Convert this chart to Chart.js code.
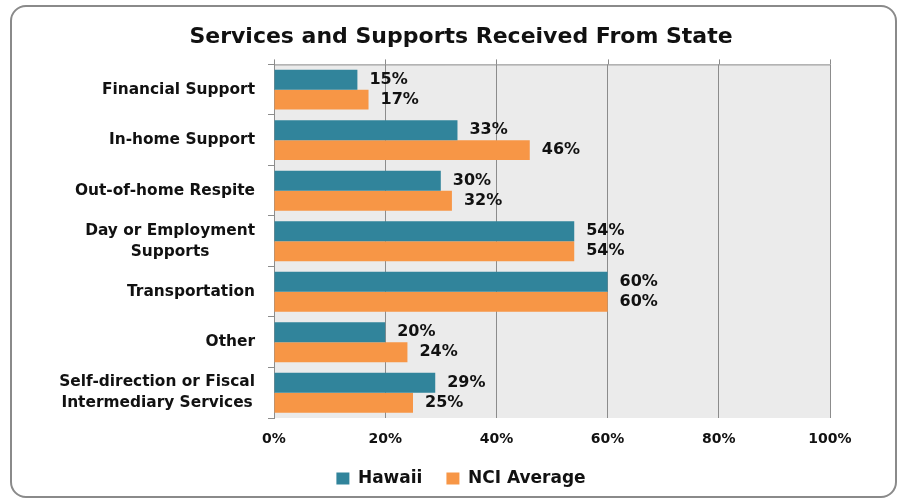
<!DOCTYPE html>
<html>
<head>
<meta charset="utf-8">
<script src="https://cdn.jsdelivr.net/npm/chart.js@4/dist/chart.umd.min.js"></script>
<style>
  html, body { margin: 0; padding: 0; background: #fff; }
  #wrap { position: relative; width: 900px; height: 502px; }
  #frame {
    position: absolute; left: 10px; top: 5px; width: 887px; height: 493px;
    border: 2px solid #8a8a8a; border-radius: 16px; box-sizing: border-box;
  }
  canvas { position: absolute; left: 0; top: 0; }
</style>
</head>
<body>
<div id="wrap">
  <div id="frame"></div>
  <canvas id="chart" width="900" height="502"></canvas>
</div>
<script>
// data
const categories = [
    ['Financial Support'],
    ['In-home Support'],
    ['Out-of-home Respite'],
    ['Day or Employment', 'Supports'],
    ['Transportation'],
    ['Other'],
    ['Self-direction or Fiscal', 'Intermediary Services']
];
const hawaii     = [15, 33, 30, 54, 60, 20, 29];
const nciAverage = [17, 46, 32, 54, 60, 24, 25];
const xTicks     = [0, 20, 40, 60, 80, 100];

const FONT = "'DejaVu Sans', sans-serif";
const TEXT = '#111111';
const GRID = '#8c8c8c';

// plot background, top frame line, category labels and value labels
const panel = {
    id: 'panel',
    beforeDraw(chart) {
        const { ctx, chartArea: a } = chart;
        ctx.save();
        ctx.fillStyle = '#ebebeb';
        ctx.fillRect(a.left, a.top, a.right - a.left, a.bottom - a.top);
        ctx.restore();
    },
    afterDraw(chart) {
        const { ctx, chartArea: a, scales } = chart;
        ctx.save();

        // top edge with little tick marks above it
        ctx.strokeStyle = GRID;
        ctx.lineWidth = 1;
        ctx.beginPath();
        ctx.moveTo(a.left, a.top + 0.5);
        ctx.lineTo(a.right, a.top + 0.5);
        xTicks.forEach(v => {
            const px = Math.round(scales.x.getPixelForValue(v)) + 0.5;
            ctx.moveTo(px, a.top - 5);
            ctx.lineTo(px, a.top);
        });
        ctx.stroke();

        // category labels: block right-aligned, lines centred on each other
        ctx.font = `bold 15.4px ${FONT}`;
        ctx.fillStyle = TEXT;
        ctx.textAlign = 'center';
        ctx.textBaseline = 'middle';
        categories.forEach((lines, i) => {
            const y = scales.y.getPixelForValue(i);
            const w = Math.max(...lines.map(l => ctx.measureText(l).width));
            const cx = a.left - 19 - w / 2;
            lines.forEach((l, j) => {
                ctx.fillText(l, cx, y + (j - (lines.length - 1) / 2) * 21);
            });
        });

        // value labels at the end of each bar
        ctx.font = `bold 16px ${FONT}`;
        ctx.textAlign = 'left';
        chart.data.datasets.forEach((ds, di) => {
            chart.getDatasetMeta(di).data.forEach((el, i) => {
                ctx.fillText(ds.data[i] + '%', el.x + 12, el.y);
            });
        });
        ctx.restore();
    }
};

new Chart(document.getElementById('chart'), {
    type: 'bar',
    data: {
        labels: categories,
        datasets: [
            { label: 'Hawaii', data: hawaii, backgroundColor: '#31849b' },
            { label: 'NCI Average', data: nciAverage, backgroundColor: '#f79646' }
        ]
    },
    options: {
        indexAxis: 'y',
        responsive: false,
        animation: false,
        categoryPercentage: 0.79,
        barPercentage: 1.0,
        layout: { padding: { left: 22, right: 0, top: 0, bottom: 5 } },
        plugins: {
            title: {
                display: true,
                text: 'Services and Supports Received From State',
                color: TEXT,
                font: { family: FONT, size: 22, weight: 'bold' },
                padding: { top: 24, bottom: 14 }
            },
            legend: {
                position: 'bottom',
                labels: {
                    color: TEXT,
                    font: { family: FONT, size: 17, weight: 'bold' },
                    boxWidth: 13,
                    boxHeight: 12,
                    padding: 24,
                    generateLabels(chart) {
                        const items = Chart.defaults.plugins.legend.labels.generateLabels(chart);
                        items.forEach(it => { it.lineWidth = 0; });
                        return items;
                    }
                }
            },
            tooltip: { enabled: false }
        },
        scales: {
            x: {
                min: 0,
                max: 100,
                ticks: {
                    stepSize: 20,
                    callback: v => v + '%',
                    color: TEXT,
                    font: { family: FONT, size: 14, weight: 'bold' },
                    padding: 13
                },
                grid: { color: GRID, drawTicks: false },
                border: { display: false },
                afterFit(s) { s.height = 28; }
            },
            y: {
                ticks: { display: false },
                grid: {
                    drawOnChartArea: false,
                    drawTicks: true,
                    tickLength: 6,
                    color: GRID,
                    offset: true
                },
                border: { color: GRID },
                afterFit(s) { s.width = 252; }
            },
            // empty right-hand margin so the plot ends at 100% near x=830
            yRight: {
                type: 'linear',
                axis: 'y',
                position: 'right',
                display: true,
                ticks: { display: false },
                grid: { display: false },
                border: { display: false },
                afterFit(s) { s.width = 70; }
            }
        }
    },
    plugins: [panel]
});
</script>
</body>
</html>
